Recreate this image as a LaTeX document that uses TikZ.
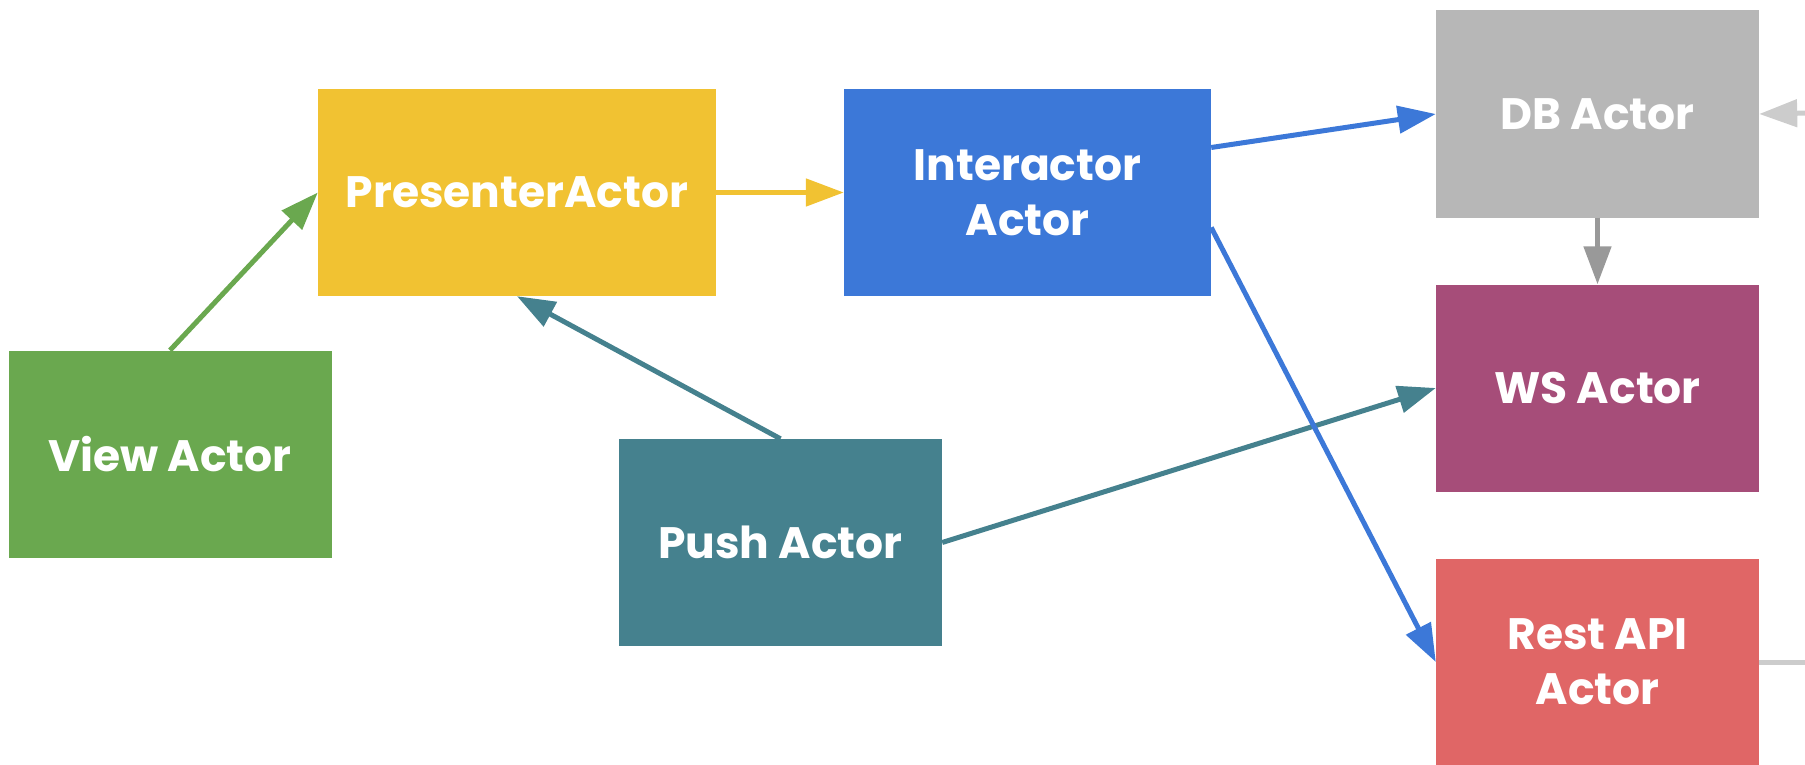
\documentclass[tikz,border=0pt]{standalone}
\usepackage{fontspec}
\setmainfont{Poppins}
\usetikzlibrary{arrows.meta,calc}
\definecolor{cgreen}{HTML}{6AA84F}
\definecolor{cyellow}{HTML}{F1C232}
\definecolor{cblue}{HTML}{3C78D8}
\definecolor{cteal}{HTML}{45818E}
\definecolor{cgray}{HTML}{B7B7B7}
\definecolor{cplum}{HTML}{A64D79}
\definecolor{cred}{HTML}{E06666}
\definecolor{cdark}{HTML}{999999}
\definecolor{clight}{HTML}{CCCCCC}
\tikzset{
  actor/.style={rectangle, inner sep=0pt, text=white, align=center,
    font=\fontsize{44}{55}\selectfont\bfseries, minimum height=207pt},
  link/.style={line width=5pt, -{Triangle[length=38pt,width=27pt]}},
}
\begin{document}
\begin{tikzpicture}[x=1pt,y=-1pt]
\useasboundingbox (0,0) rectangle (1805,765);
% actors
\node[actor, fill=cgreen, minimum width=323pt] (view) at (170,454) {View Actor};
\node[actor, fill=cyellow, minimum width=398pt] (pres) at (517,192.5) {PresenterActor};
\node[actor, fill=cblue, minimum width=367pt] (inter) at (1027.5,192.5) {Interactor\\Actor};
\node[actor, fill=cteal, minimum width=323pt] (push) at (780.5,542.5) {Push Actor};
\node[actor, fill=cgray, minimum width=323pt] (db) at (1597.5,114) {DB Actor};
\node[actor, fill=cplum, minimum width=323pt] (ws) at (1597.5,388) {WS Actor};
\node[actor, fill=cred, minimum width=323pt] (rest) at (1597.5,662) {Rest API\\Actor};
% off-page ends
\coordinate (dbin) at (1810,113);
\coordinate (restout) at (1810,662);
% connectors
\draw[link, cgreen] (view.north) -- (pres.west);
\draw[link, cyellow] (pres.east) -- (inter.west);
\draw[link, cteal] (push.north) -- (pres.south);
\draw[link, cteal] (push.east) -- (ws.west);
\draw[link, cblue] ($(inter.east)+(0,-45)$) -- (db.west);
\draw[link, cblue] ($(inter.east)+(0,35)$) -- (rest.west);
\draw[link, cdark] (db.south) -- (ws.north);
\draw[link, clight] (dbin) -- (db.east);
\draw[line width=5pt, clight] (rest.east) -- (restout);
\end{tikzpicture}
\end{document}
